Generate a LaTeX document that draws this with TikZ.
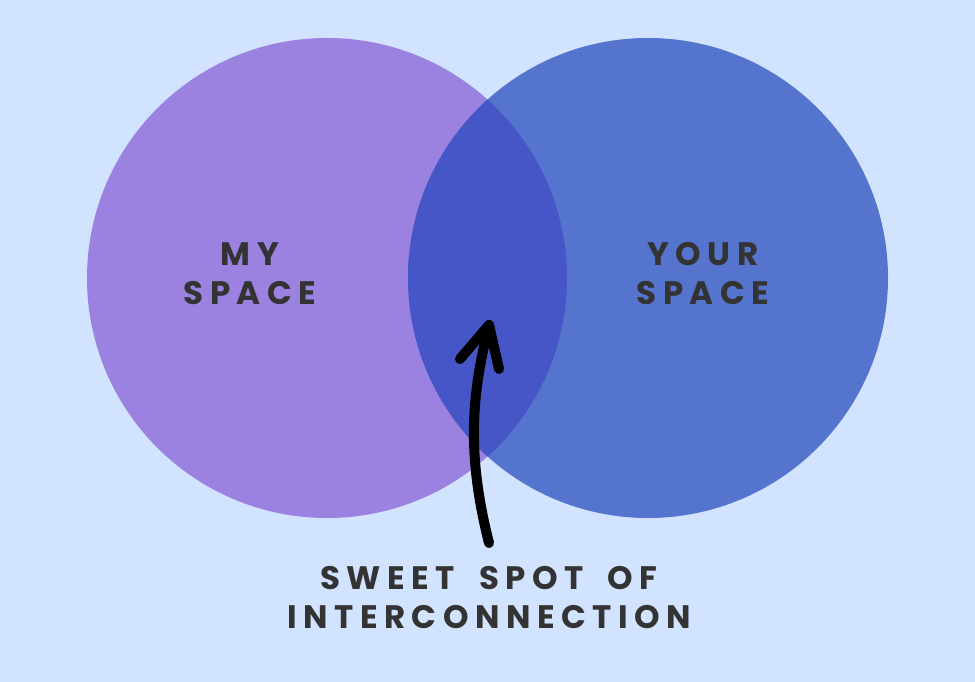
\documentclass[tikz,border=0pt]{standalone}
\usepackage{fontspec}
\setmainfont{Poppins}[LetterSpace=20, WordSpace=1.8]
\usepackage{tikz}
\usetikzlibrary{calc}
\definecolor{bgblue}{HTML}{D1E3FE}
\definecolor{mypurple}{HTML}{9C82E0}
\definecolor{yourblue}{HTML}{5574CD}
\definecolor{sweetblue}{HTML}{4656C6}
\definecolor{labelgrey}{HTML}{333333}
\tikzset{
	spacelabel/.style={align=center, text=labelgrey, font=\bfseries\fontsize{32.5}{39}\selectfont, inner sep=0pt},
	arrowline/.style={line width=10pt, line cap=round, line join=round, color=black}
}

\begin{document}
\begin{tikzpicture}[x=1pt, y=1pt]
		%%%%% START %%%%%
		
		\fill[bgblue] (0, 0) rectangle (975, 682);
		
		\fill[mypurple] (327, 404) circle (240);
		\fill[yourblue] (648, 404) circle (240);
		\begin{scope}
			\clip (327, 404) circle (240);
			\fill[sweetblue] (648, 404) circle (240);
		\end{scope}
		
		\node[spacelabel] (my) at (250, 408) {MY\\SPACE};
		\node[spacelabel] (your) at (703, 408) {YOUR\\SPACE};
		\node[spacelabel] (sweet) at (489, 84) {SWEET SPOT OF\\INTERCONNECTION};
		
		\coordinate (tail) at (489, 139);
		\coordinate (tip) at (489, 357);
		\coordinate (barbl) at (460, 323);
		\coordinate (barbr) at (499, 313);
		\draw[arrowline] (tail) .. controls (466, 230) and (472, 289) .. (tip);
		\draw[arrowline] (barbl) -- (tip) -- (barbr);
		
		%%%%% END %%%%%
	\end{tikzpicture}
\end{document}
